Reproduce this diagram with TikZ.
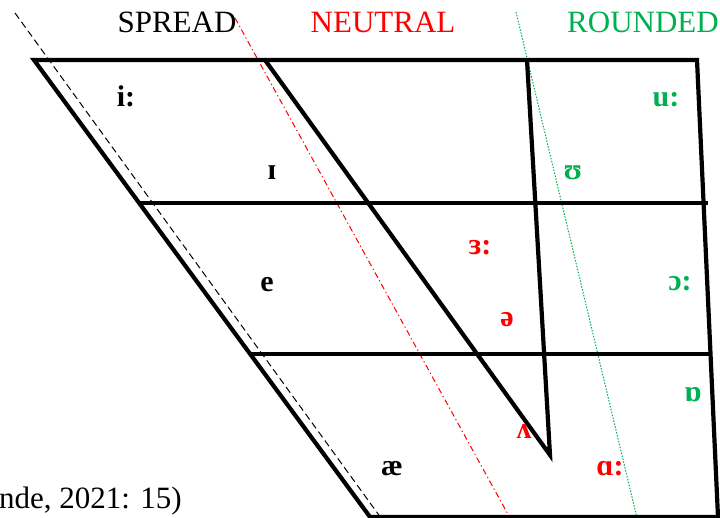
\documentclass[tikz,border=0pt]{standalone}
\usepackage{fontspec}
\setmainfont{Liberation Serif}
\definecolor{rgreen}{RGB}{0,176,80}
\definecolor{rred}{RGB}{255,0,0}
\tikzset{
  frame/.style={line width=4.2pt, line join=miter},
  head/.style={font=\fontsize{31}{31}\selectfont, anchor=base, inner sep=0pt},
  vow/.style={font=\fontsize{30}{30}\selectfont\bfseries, anchor=base, inner sep=0pt},
  spreadln/.style={line width=1pt, dash pattern=on 7pt off 4pt},
  neutralln/.style={rred, line width=1pt, dash pattern=on 6pt off 3pt on 1.2pt off 3pt},
  roundln/.style={rgreen, line width=1pt, dash pattern=on 1.5pt off 1.5pt}
}
\begin{document}
\begin{tikzpicture}[x=1pt,y=-1pt]
\useasboundingbox (0,0) rectangle (720,518);
% guide lines
\coordinate (sa) at (15,13);  \coordinate (sb) at (381,518);
\coordinate (na) at (235,18); \coordinate (nb) at (510,518);
\coordinate (ga) at (516,12); \coordinate (gb) at (637,518);
\draw[spreadln] (sa) -- (sb);
\draw[neutralln] (na) -- (nb);
\draw[roundln] (ga) -- (gb);
% frame
\coordinate (TL) at (34,60);
\coordinate (TR) at (697,60);
\coordinate (BR) at (718,517);
\coordinate (BL) at (370,517);
\coordinate (L1) at (139,203);
\coordinate (R1) at (708,203);
\coordinate (L2) at (250,354);
\coordinate (R2) at (711,354);
\coordinate (IT) at (265,60);
\coordinate (V) at (550,455);
\coordinate (IU) at (527,60);
\draw[frame] (TL) -- (TR) -- (BR) -- (BL) -- cycle;
\draw[frame] (L1) -- (R1);
\draw[frame] (L2) -- (R2);
\draw[frame] (IT) -- (V) -- (IU);
% headings
\node[head] (hs) at (177,33) {SPREAD};
\node[head, text=rred] (hn) at (383,33) {NEUTRAL};
\node[head, text=rgreen] (hr) at (643,33) {ROUNDED};
% vowels
\node[vow] (vi) at (126,107) {i:};
\node[vow, text=rgreen] (vu) at (666,107) {u:};
\node[vow] (vI) at (272,180) {ɪ};
\node[vow, text=rgreen] (vU) at (573,180) {ʊ};
\node[vow, text=rred] (v3) at (480,255) {ɜ:};
\node[vow] (ve) at (267,292) {e};
\node[vow, text=rgreen] (vo) at (680,291) {ɔ:};
\node[vow, text=rred] (vschwa) at (507,327) {ə};
\node[vow, text=rgreen] (vQ) at (693,402) {ɒ};
\node[vow, text=rred] (vV) at (524,438) {ʌ};
\node[vow] (vae) at (392,475) {æ};
\node[vow, text=rred] (vA) at (610,475) {ɑ:};
% source
\node[font=\fontsize{31}{31}\selectfont, anchor=base west, inner sep=0pt] (src) at (-1,508) {nde, 2021: 15)};
\end{tikzpicture}
\end{document}
